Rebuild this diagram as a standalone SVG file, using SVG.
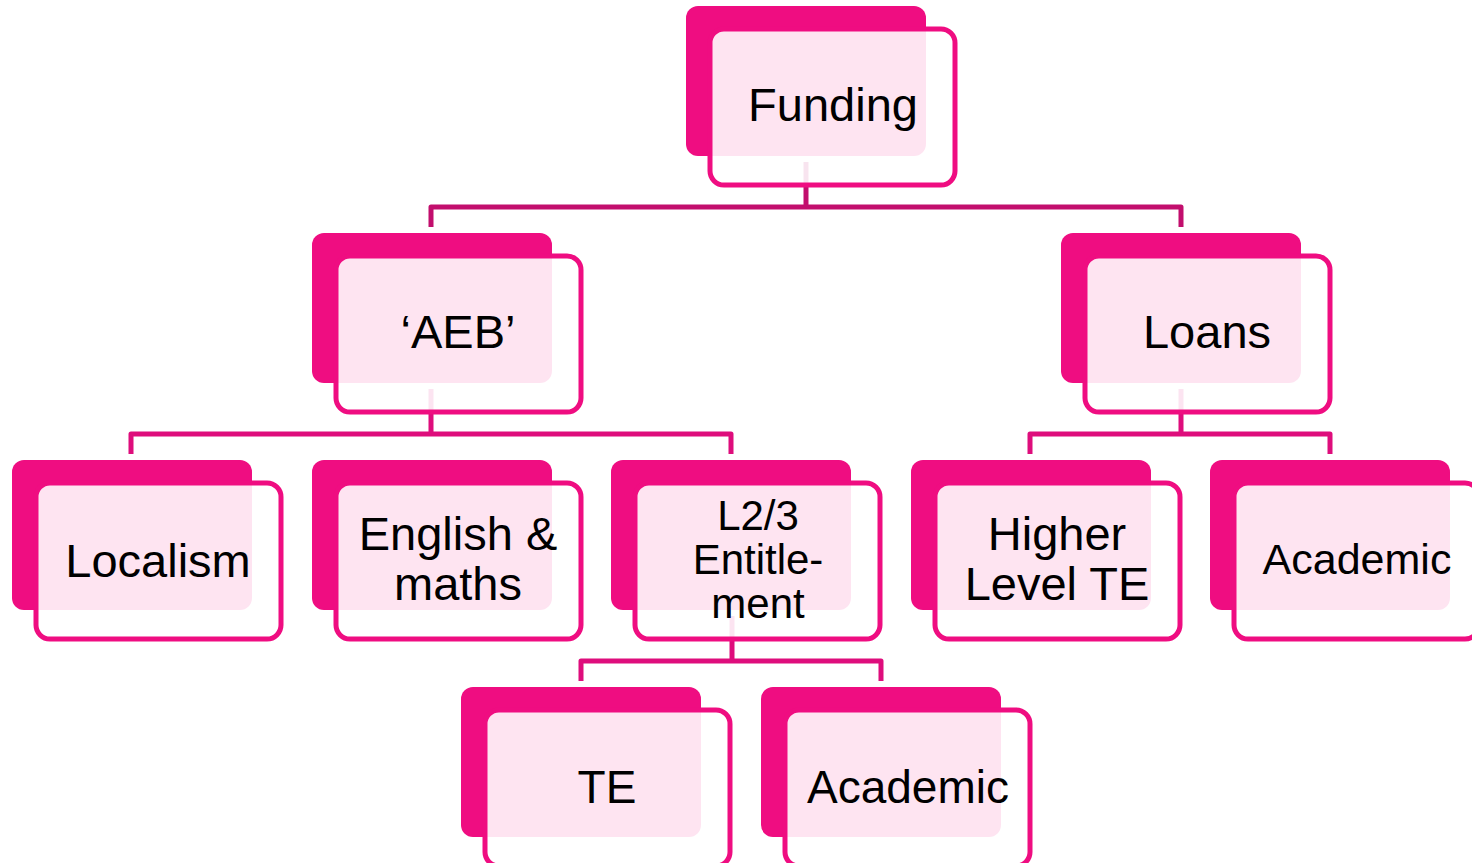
<svg xmlns="http://www.w3.org/2000/svg" width="1472" height="863" viewBox="0 0 1472 863">
<style>
.back{fill:#EF0D81;}
.front{fill:#FFFFFF;fill-opacity:0.89;stroke:#EF0D81;stroke-width:5;}
.t{font-family:"Liberation Sans",Arial,sans-serif;fill:#000;text-anchor:middle;font-size:47px;}
.m{font-size:46px;}
.s{font-size:43px;}
.l{font-size:42px;}
.c1{fill:none;stroke:#C20E6D;stroke-width:5;stroke-linejoin:round;}
.c2{fill:none;stroke:#DE0D7C;stroke-width:5;stroke-linejoin:round;}
</style>
<rect width="1472" height="863" fill="#FFFFFF"/>
<g id="connectors">
<path class="c1" d="M806 162 V207 M431 227 V207 H1181 V227"/>
<path class="c2" d="M431 389 V434 M131 454 V434 H731 V454"/>
<path class="c2" d="M1181 389 V434 M1030 454 V434 H1330 V454"/>
<path class="c2" d="M732 616 V661 M581 681 V661 H881 V681"/>
</g>
<g id="node-funding">
<rect class="back" x="686" y="6" width="240" height="150" rx="12"/>
<rect class="front" x="710" y="29" width="245" height="156" rx="14"/>
<text class="t" x="833" y="121">Funding</text>
</g>
<g id="node-aeb">
<rect class="back" x="312" y="233" width="240" height="150" rx="12"/>
<rect class="front" x="336" y="256" width="245" height="156" rx="14"/>
<text class="t" x="458" y="348">‘AEB’</text>
</g>
<g id="node-loans">
<rect class="back" x="1061" y="233" width="240" height="150" rx="12"/>
<rect class="front" x="1085" y="256" width="245" height="156" rx="14"/>
<text class="t" x="1207" y="348">Loans</text>
</g>
<g id="node-localism">
<rect class="back" x="12" y="460" width="240" height="150" rx="12"/>
<rect class="front" x="36" y="483" width="245" height="156" rx="14"/>
<text class="t" x="158" y="577">Localism</text>
</g>
<g id="node-english-maths">
<rect class="back" x="312" y="460" width="240" height="150" rx="12"/>
<rect class="front" x="336" y="483" width="245" height="156" rx="14"/>
<text class="t" x="458" y="550">English &amp;</text>
<text class="t" x="458" y="600">maths</text>
</g>
<g id="node-l23">
<rect class="back" x="611" y="460" width="240" height="150" rx="12"/>
<rect class="front" x="635" y="483" width="245" height="156" rx="14"/>
<text class="t l" x="758" y="530">L2/3</text>
<text class="t l" x="758" y="574">Entitle-</text>
<text class="t l" x="758" y="618">ment</text>
</g>
<g id="node-higher-level-te">
<rect class="back" x="911" y="460" width="240" height="150" rx="12"/>
<rect class="front" x="935" y="483" width="245" height="156" rx="14"/>
<text class="t" x="1057" y="550">Higher</text>
<text class="t" x="1057" y="600">Level TE</text>
</g>
<g id="node-academic-loans">
<rect class="back" x="1210" y="460" width="240" height="150" rx="12"/>
<rect class="front" x="1234" y="483" width="245" height="156" rx="14"/>
<text class="t s" x="1357" y="574">Academic</text>
</g>
<g id="node-te">
<rect class="back" x="461" y="687" width="240" height="150" rx="12"/>
<rect class="front" x="485" y="710" width="245" height="156" rx="14"/>
<text class="t m" x="607" y="803">TE</text>
</g>
<g id="node-academic-l23">
<rect class="back" x="761" y="687" width="240" height="150" rx="12"/>
<rect class="front" x="785" y="710" width="245" height="156" rx="14"/>
<text class="t m" x="908" y="803">Academic</text>
</g>
</svg>
